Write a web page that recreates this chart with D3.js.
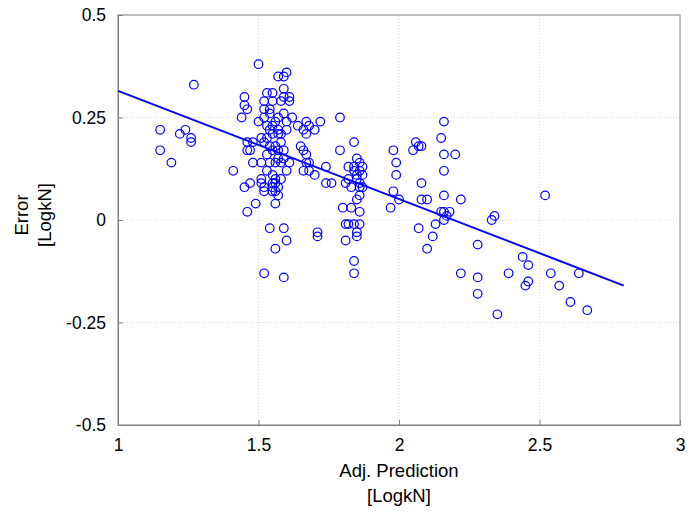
<!DOCTYPE html>
<html>
<head>
<meta charset="utf-8">
<script src="https://cdn.jsdelivr.net/npm/d3@7"></script>
<style>
  body { margin: 0; background: #fff; }
  svg text { font-family: "Liberation Sans", Arial, sans-serif; fill: #000; }
</style>
</head>
<body>
<div id="chart"></div>
<script>
// adjusted prediction (x) and error (y)
const predX = [
  1.15, 1.15, 1.19, 1.22, 1.24, 1.26, 1.26, 1.27, 1.41,
  1.45, 1.45, 1.46, 1.44, 1.46, 1.48, 1.46, 1.47, 1.48, 1.45, 1.47, 1.49, 1.46, 1.50, 1.50,
  1.53, 1.55, 1.52, 1.55, 1.52, 1.54, 1.54, 1.52, 1.56, 1.55, 1.53, 1.54, 1.51, 1.53, 1.55,
  1.52, 1.54, 1.56, 1.55, 1.53, 1.51, 1.54, 1.56, 1.53, 1.55, 1.51, 1.56, 1.51, 1.55, 1.52,
  1.55, 1.56, 1.56, 1.52, 1.55, 1.56, 1.54, 1.56, 1.52,
  1.57, 1.59, 1.60, 1.59, 1.58, 1.59, 1.61, 1.61, 1.59, 1.57, 1.62, 1.60, 1.57, 1.60, 1.58,
  1.57, 1.58, 1.57, 1.59, 1.57, 1.59, 1.58, 1.61, 1.60, 1.58, 1.57, 1.57, 1.59, 1.60, 1.59,
  1.64, 1.67, 1.68, 1.70, 1.67, 1.66, 1.72, 1.65, 1.66, 1.67, 1.67, 1.68, 1.66, 1.68, 1.70,
  1.74, 1.74, 1.76, 1.71, 1.71,
  1.79, 1.84, 1.79, 1.85, 1.86, 1.87, 1.84, 1.82, 1.86, 1.84, 1.85, 1.87, 1.82, 1.85, 1.81,
  1.86, 1.83, 1.86, 1.87, 1.86, 1.85, 1.80, 1.83, 1.86, 1.81, 1.82, 1.84, 1.86, 1.85, 1.85,
  1.81, 1.84, 1.84,
  1.98, 1.99, 1.99, 1.98, 1.97, 2.00, 2.06, 2.05, 2.07, 2.08, 2.08, 2.08, 2.10, 2.07, 2.13,
  2.12, 2.10,
  2.16, 2.15, 2.16, 2.20, 2.16, 2.16, 2.22, 2.15, 2.16, 2.18, 2.17, 2.16, 2.22,
  2.28, 2.28, 2.28, 2.33, 2.34, 2.35, 2.39, 2.44, 2.46, 2.46, 2.45, 2.52, 2.54, 2.57, 2.61,
  2.64, 2.67
];
const errY = [
  0.22, 0.17, 0.14, 0.21, 0.22, 0.20, 0.19, 0.33, 0.12,
  0.30, 0.28, 0.27, 0.25, 0.19, 0.19, 0.17, 0.17, 0.14, 0.08, 0.09, 0.04, 0.02, 0.38, 0.24,
  0.31, 0.31, 0.29, 0.29, 0.27, 0.27, 0.26, 0.25, 0.24, 0.23, 0.23, 0.22, 0.20, 0.20, 0.21,
  0.19, 0.18, 0.18, 0.17, 0.16, 0.14, 0.14, 0.14, 0.12, 0.11, 0.10, 0.10, 0.09, 0.09, 0.08,
  0.08, 0.09, 0.07, 0.07, 0.07, 0.04, -0.02, -0.07, -0.13,
  0.35, 0.35, 0.36, 0.32, 0.29, 0.30, 0.30, 0.29, 0.26, 0.25, 0.25, 0.24, 0.22, 0.22, 0.21,
  0.21, 0.19, 0.17, 0.17, 0.15, 0.15, 0.14, 0.14, 0.12, 0.10, 0.08, 0.06, -0.02, -0.05, -0.14,
  0.23, 0.24, 0.23, 0.22, 0.21, 0.22, 0.24, 0.18, 0.17, 0.16, 0.14, 0.14, 0.12, 0.12, 0.11,
  0.13, 0.09, 0.09, -0.03, -0.04,
  0.25, 0.19, 0.17, 0.15, 0.14, 0.13, 0.13, 0.13, 0.12, 0.12, 0.11, 0.11, 0.10, 0.10, 0.09,
  0.09, 0.08, 0.08, 0.08, 0.06, 0.05, 0.03, 0.03, 0.02, -0.01, -0.01, -0.01, -0.01, -0.03, -0.04,
  -0.05, -0.10, -0.13,
  0.17, 0.14, 0.11, 0.07, 0.03, 0.05, 0.19, 0.17, 0.18, 0.18, 0.09, 0.05, 0.05, -0.02, -0.01,
  -0.04, -0.07,
  0.24, 0.20, 0.16, 0.16, 0.12, 0.06, 0.05, 0.02, 0.02, 0.02, 0.01, 0.00, -0.13,
  -0.06, -0.14, -0.18, 0.00, 0.01, -0.23, -0.13, -0.09, -0.11, -0.15, -0.16, 0.06, -0.13, -0.16, -0.20,
  -0.13, -0.22
];
// fitted trend line end points
const fitX = [1, 2.8];
const fitY = [0.315, -0.16];

const xTicks = [1, 1.5, 2, 2.5, 3];
const yTicks = [-0.5, -0.25, 0, 0.25, 0.5];
const xTickLabels = ["1", "1.5", "2", "2.5", "3"];
const yTickLabels = ["-0.5", "-0.25", "0", "0.25", "0.5"];

const width = 699, height = 512;
const margin = {top: 15, right: 19, bottom: 87, left: 118};

const svg = d3.select("#chart").append("svg")
    .attr("width", width)
    .attr("height", height);

const x = d3.scaleLinear().domain([1, 3]).range([margin.left, width - margin.right]);
const y = d3.scaleLinear().domain([-0.5, 0.5]).range([height - margin.bottom, margin.top]);

// grid
svg.append("g")
    .selectAll("line")
    .data(xTicks.slice(1, -1))
    .enter().append("line")
    .attr("x1", d => x(d)).attr("x2", d => x(d))
    .attr("y1", y(-0.5)).attr("y2", y(0.5))
    .attr("stroke", "#d9d9d9")
    .attr("stroke-dasharray", "1,2");
svg.append("g")
    .selectAll("line")
    .data(yTicks.slice(1, -1))
    .enter().append("line")
    .attr("y1", d => y(d)).attr("y2", d => y(d))
    .attr("x1", x(1)).attr("x2", x(3))
    .attr("stroke", "#d9d9d9")
    .attr("stroke-dasharray", "1,2");

// axes (ticks pointing inward, like matlab)
const xAxis = svg.append("g")
    .attr("transform", `translate(0,${y(-0.5)})`)
    .call(d3.axisBottom(x).tickValues(xTicks).tickFormat((d, i) => xTickLabels[i])
        .tickSizeInner(-5).tickSizeOuter(0).tickPadding(14));
const yAxis = svg.append("g")
    .attr("transform", `translate(${x(1)},0)`)
    .call(d3.axisLeft(y).tickValues(yTicks).tickFormat((d, i) => yTickLabels[i])
        .tickSizeInner(-5).tickSizeOuter(0).tickPadding(12));
[xAxis, yAxis].forEach(a => {
  a.selectAll("path").attr("stroke", "#808080");
  a.selectAll("line").attr("stroke", "#808080");
  a.selectAll("text").attr("font-size", 17.5).attr("font-family", "Liberation Sans, Arial, sans-serif");
});

// top and right box edges
svg.append("rect")
    .attr("x", x(1)).attr("y", y(0.5))
    .attr("width", x(3) - x(1)).attr("height", y(-0.5) - y(0.5))
    .attr("fill", "none")
    .attr("stroke", "#808080");

// points
svg.append("g")
    .selectAll("circle")
    .data(predX.map((v, i) => ({px: v, e: errY[i]})))
    .enter().append("circle")
    .attr("cx", d => x(d.px))
    .attr("cy", d => y(d.e))
    .attr("r", 4.3)
    .attr("fill", "none")
    .attr("stroke", "#0000ff")
    .attr("stroke-width", 1.2);

// trend line
svg.append("line")
    .attr("x1", x(fitX[0])).attr("y1", y(fitY[0]))
    .attr("x2", x(fitX[1])).attr("y2", y(fitY[1]))
    .attr("stroke", "#0000ff")
    .attr("stroke-width", 2);

// labels
const xl = svg.append("text")
    .attr("text-anchor", "middle")
    .attr("font-size", 18.5);
xl.append("tspan").attr("x", x(2)).attr("y", 477).text("Adj. Prediction");
xl.append("tspan").attr("x", x(2)).attr("y", 502).text("[LogkN]");

const yl = svg.append("text")
    .attr("text-anchor", "middle")
    .attr("font-size", 18.5)
    .attr("transform", `translate(0,${y(0) - 5}) rotate(-90)`);
yl.append("tspan").attr("x", 0).attr("y", 28).text("Error");
yl.append("tspan").attr("x", 0).attr("y", 51).text("[LogkN]");
</script>
</body>
</html>
